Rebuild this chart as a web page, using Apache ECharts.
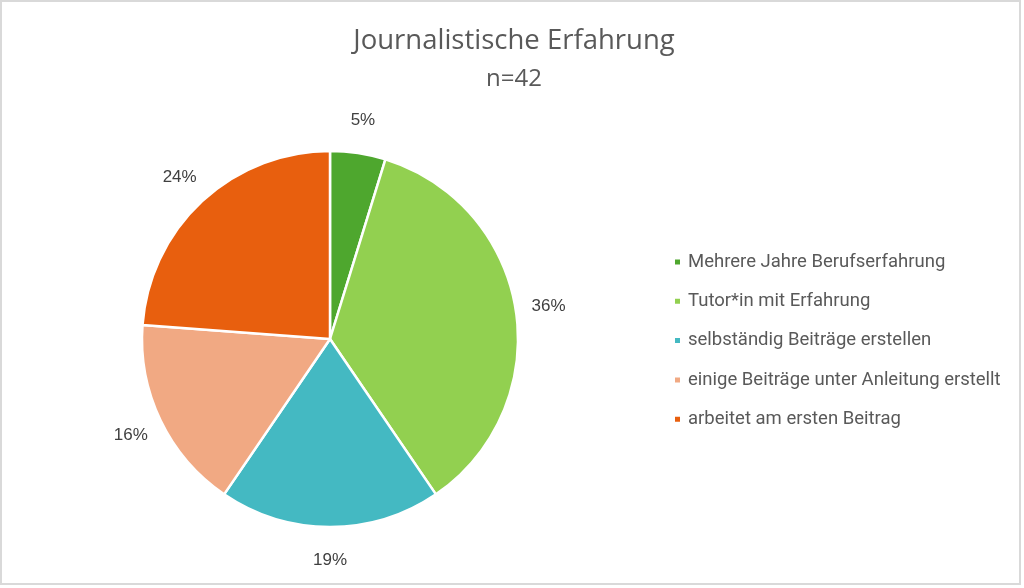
<!DOCTYPE html>
<html>
<head>
<meta charset="utf-8">
<title>Journalistische Erfahrung</title>
<script src="https://cdn.jsdelivr.net/npm/echarts@6/dist/echarts.min.js"></script>
<style>
  html, body { margin: 0; padding: 0; background: #fff; }
  #chart { width: 1024px; height: 588px; }
</style>
</head>
<body>
<div id="chart"></div>
<script>
"use strict";
// answers out of n=42
var categories = [
    'Mehrere Jahre Berufserfahrung',
    'Tutor*in mit Erfahrung',
    'selbständig Beiträge erstellen',
    'einige Beiträge unter Anleitung erstellt',
    'arbeitet am ersten Beitrag'
];
var counts = [2, 15, 8, 7, 10];
// percentages as printed on the chart
var pctLabels = ['5%', '36%', '19%', '16%', '24%'];
var colors = ['#4EA72E', '#92D050', '#44B9C2', '#F1A983', '#E85F0E'];

var sliceData = categories.map(function (name, i) {
    return { name: name, value: counts[i], itemStyle: { color: colors[i] } };
});
var labelData = categories.map(function (name, i) {
    return { name: name, value: counts[i] };
});

var chart = echarts.init(document.getElementById('chart'));
var option = {
    animation: false,
    backgroundColor: '#fff',
    title: {
        text: 'Journalistische Erfahrung',
        subtext: 'n=42',
        left: 509,
        top: 22,
        textAlign: 'center',
        itemGap: 12,
        textStyle: { fontFamily: 'Open Sans', fontSize: 27.5, fontWeight: 'normal', color: '#595959' },
        subtextStyle: { fontFamily: 'Open Sans', fontSize: 24, color: '#595959' }
    },
    legend: {
        orient: 'vertical',
        left: 668,
        top: 247,
        icon: 'rect',
        itemWidth: 7,
        itemHeight: 7,
        itemGap: 19.3,
        data: categories,
        textStyle: { fontFamily: 'Roboto', fontSize: 18.5, lineHeight: 20, color: '#595959', padding: [0, 0, 0, 2] }
    },
    graphic: [{
        type: 'rect',
        shape: { x: 1, y: 1, width: 1019, height: 583 },
        style: { fill: 'none', stroke: '#d9d9d9', lineWidth: 2 },
        silent: true
    }],
    series: [
        {
            type: 'pie',
            center: [330, 339],
            radius: [0, 188],
            startAngle: 90,
            clockwise: true,
            label: { show: false },
            labelLine: { show: false },
            itemStyle: { borderColor: '#fff', borderWidth: 2.5 },
            emphasis: { disabled: true },
            data: sliceData
        },
        {
            // transparent ring only used to place the percentage labels
            type: 'pie',
            center: [330, 339],
            radius: [0, 436],
            startAngle: 90,
            clockwise: true,
            silent: true,
            itemStyle: { color: 'transparent' },
            label: {
                show: true,
                position: 'inside',
                fontFamily: 'Liberation Sans',
                fontSize: 17,
                color: '#404040',
                formatter: function (p) { return pctLabels[p.dataIndex]; }
            },
            labelLine: { show: false },
            emphasis: { disabled: true },
            data: labelData
        }
    ]
};
chart.setOption(option);
</script>
</body>
</html>
